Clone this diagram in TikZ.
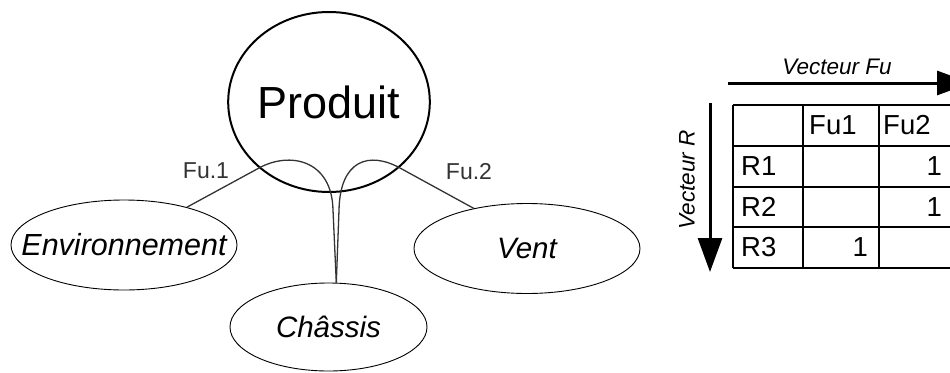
\documentclass[tikz,border=0pt]{standalone}
\usepackage{fontspec}
\setmainfont{Liberation Sans}
\usetikzlibrary{shapes.geometric,arrows.meta}
\definecolor{linegray}{HTML}{333333}
\begin{document}
\begin{tikzpicture}[x=1pt,y=-1pt,
  oval/.style={ellipse,draw,line width=0.9pt,inner sep=0pt,minimum width=226pt,minimum height=90pt,font=\fontsize{29.5}{31}\selectfont\itshape},
  prod/.style={ellipse,draw,line width=2pt,inner sep=0pt,minimum width=195pt,minimum height=180pt,font=\fontsize{45}{50}\selectfont},
  conn/.style={draw=linegray,line width=1.3pt},
  flabel/.style={text=linegray,inner sep=0pt,font=\fontsize{23}{25}\selectfont},
  vlabel/.style={inner sep=0pt,font=\fontsize{22.5}{24}\selectfont\itshape},
  cell/.style={inner sep=0pt,font=\fontsize{27.5}{29}\selectfont},
  grid/.style={line width=1.3pt},
  bigarrow/.style={line width=3pt,-{Triangle[length=34pt,width=24pt]}}
]
\useasboundingbox (0,0) rectangle (950,372);
\clip (0,0) rectangle (950,372);

% nodes
\node[prod] (produit) at (329,102) {Produit};
\node[oval,inner xsep=-30pt,font=\fontsize{30.5}{32}\selectfont\itshape] (env) at (124,245) {Environnement};
\node[oval,minimum width=197pt,minimum height=88pt] (chassis) at (328.5,327) {Châssis};
\node[oval] (vent) at (527,248.5) {Vent};

% connectors
\coordinate (k1) at (259,168);
\coordinate (k1e) at (333,210);
\coordinate (k2) at (400,168);
\coordinate (k2e) at (339,210);
\draw[conn] (env.31) -- (k1) .. controls (290,151) and (332,160) .. (k1e) -- (chassis.80);
\draw[conn] (vent.143) -- (k2) .. controls (369,151) and (340,160) .. (k2e) -- (chassis.80);

\node[flabel] (fu1) at (206,171) {Fu.1};
\node[flabel] (fu2) at (469,172) {Fu.2};

% vectors
\coordinate (hs) at (728,83);
\coordinate (he) at (971,83);
\draw[bigarrow] (hs) -- (he);
\node[vlabel] (vfu) at (837,67) {Vecteur Fu};
\coordinate (vs) at (710,103);
\coordinate (ve) at (710,272);
\draw[bigarrow] (vs) -- (ve);
\node[vlabel,rotate=90] (vr) at (687,180) {Vecteur R};

% table grid
\foreach \y in {105,146,187,227,268} \draw[grid] (733,\y) -- (953,\y);
\foreach \x in {733,803,879,953} \draw[grid] (\x,105) -- (\x,268);

% table texts
\node[cell,anchor=west] (h1) at (809,125.5) {Fu1};
\node[cell,anchor=west] (h2) at (883,125.5) {Fu2};
\node[cell,anchor=west] (r1) at (741,166.5) {R1};
\node[cell,anchor=west] (r2) at (741,207) {R2};
\node[cell,anchor=west] (r3) at (741,247.5) {R3};
\node[cell,anchor=east] (v12) at (942,166.5) {1};
\node[cell,anchor=east] (v22) at (942,207) {1};
\node[cell,anchor=east] (v31) at (868,247.5) {1};
\end{tikzpicture}
\end{document}
